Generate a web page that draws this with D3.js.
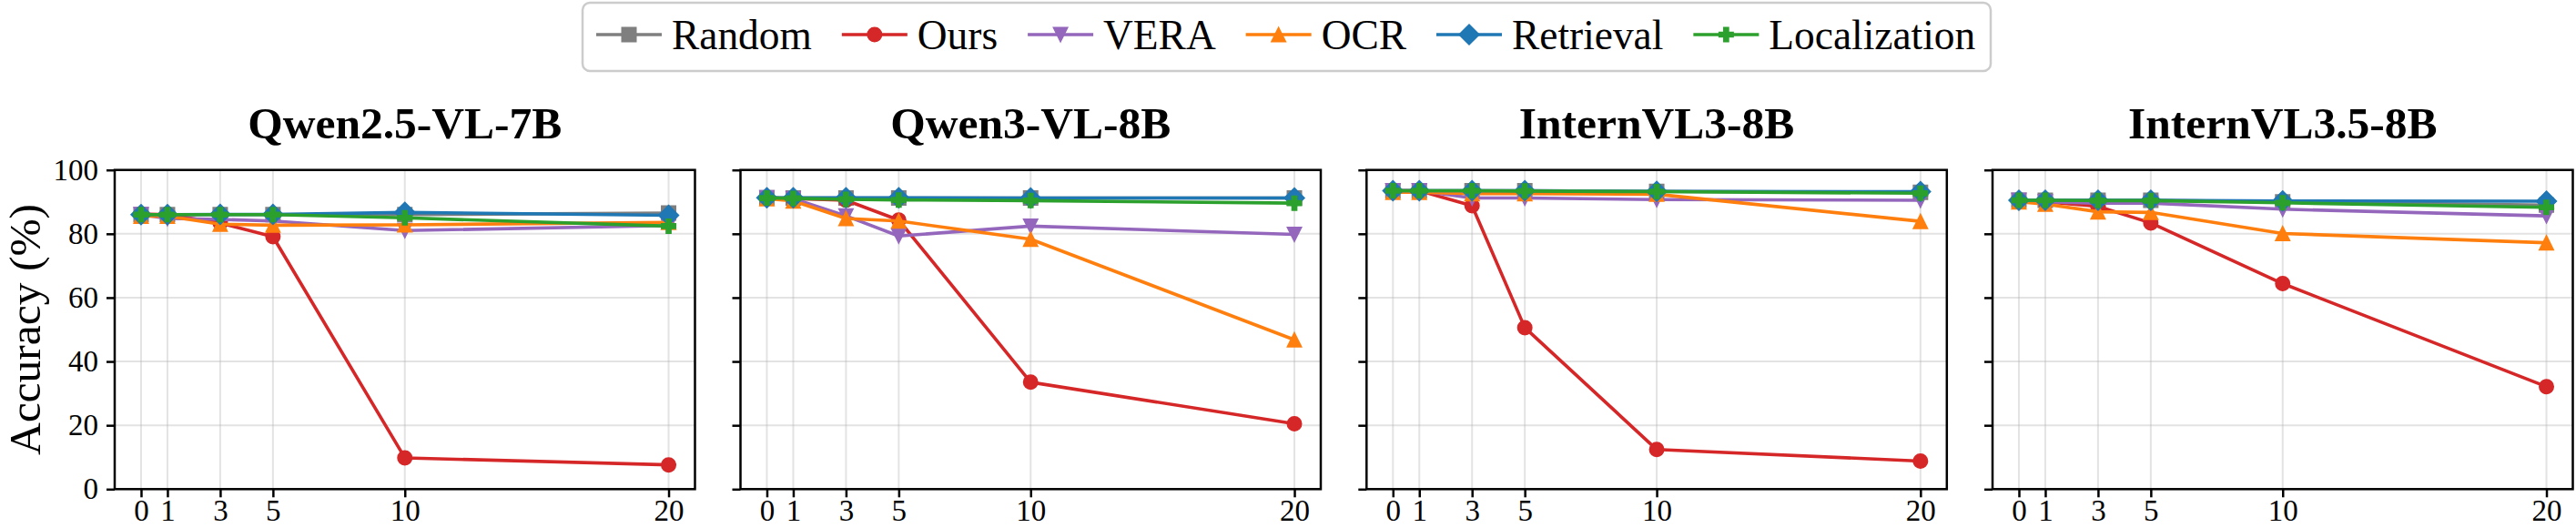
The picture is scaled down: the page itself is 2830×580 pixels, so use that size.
<!DOCTYPE html>
<html>
<head>
<meta charset="utf-8">
<script src="https://cdn.jsdelivr.net/npm/d3@7"></script>
<style>
  body { margin: 0; background: #fff; }
  svg text { font-family: "Liberation Serif", "Times New Roman", serif; fill: #000; }
</style>
</head>
<body>
<div id="chart"></div>
<script>
// data
const steps = [0, 1, 3, 5, 10, 20];
const xTicks = [0, 1, 3, 5, 10, 20];
const yTicks = [0, 20, 40, 60, 80, 100];
const models = ["Qwen2.5-VL-7B", "Qwen3-VL-8B", "InternVL3-8B", "InternVL3.5-8B"];
const methods = ["Random", "Ours", "VERA", "OCR", "Retrieval", "Localization"];

// one row per model, one value per step
const randomAcc = [
    [86, 86, 86, 86, 86, 86.5],
    [91.3, 91.2, 91.2, 91.2, 91.2, 91.2],
    [93.5, 93.5, 93.5, 93.5, 93.3, 93],
    [90.5, 90.5, 90.5, 90.5, 90, 89]
];
const oursAcc = [
    [86.2, 86, 83.4, 79.1, 9.8, 7.6],
    [91.3, 91, 90.5, 84.3, 33.5, 20.5],
    [93.5, 93.5, 88.8, 50.6, 12.4, 8.8],
    [90.5, 90, 88.6, 83.4, 64.4, 32.1]
];
const veraAcc = [
    [86, 84.8, 84.5, 84, 81, 82.6],
    [91.3, 91, 85.6, 79.3, 82.4, 79.8],
    [93.5, 93.5, 91.2, 91.2, 90.7, 90.5],
    [90.5, 90, 89.6, 89.6, 87.7, 85.6]
];
const ocrAcc = [
    [85.5, 85.5, 83, 82.7, 82.8, 83.6],
    [91, 90.3, 84.8, 84, 78.3, 46.8],
    [93, 93, 92.6, 92.6, 92.4, 83.9],
    [90, 89.3, 86.9, 86.7, 80.1, 77.2]
];
const retrievalAcc = [
    [86, 86, 86.1, 86.1, 86.7, 85.8],
    [91.3, 91.3, 91.3, 91.3, 91.2, 91.2],
    [93.5, 93.5, 93.5, 93.5, 93.3, 93.2],
    [90.5, 90.5, 90.5, 90.5, 90.3, 90.2]
];
const localizationAcc = [
    [86, 86, 86, 86, 85, 82.4],
    [91.2, 91.1, 90.8, 90.6, 90.4, 89.6],
    [93.5, 93.5, 93.5, 93.4, 93.2, 92.7],
    [90.5, 90.5, 90.4, 90.4, 89.7, 88.3]
];

const seriesAcc = [randomAcc, oursAcc, veraAcc, ocrAcc, retrievalAcc, localizationAcc];
const colors = ["#7f7f7f", "#d62728", "#9467bd", "#ff7f0e", "#1f77b4", "#2ca02c"];
const markers = ["square", "circle", "triDown", "triUp", "diamond", "plus"];

const serif = '"Liberation Serif", "Times New Roman", serif';

// marker shapes (matplotlib style), s = marker size in px
function markerPath(type, s) {
    let h = s / 2;
    switch (type) {
        case "circle": {
            let p = d3.path();
            p.arc(0, 0, h, 0, 2 * Math.PI);
            p.closePath();
            return p.toString();
        }
        case "square":
            return `M${-h},${-h}H${h}V${h}H${-h}Z`;
        case "triUp":
            return `M0,${-h}L${h},${h}L${-h},${h}Z`;
        case "triDown":
            return `M0,${h}L${h},${-h}L${-h},${-h}Z`;
        case "diamond": {
            let d = h * Math.SQRT2;
            return `M0,${-d}L${d},0L0,${d}L${-d},0Z`;
        }
        case "plus": {
            let a = s / 6;
            return `M${-a},${-h}H${a}V${-a}H${h}V${a}H${a}V${h}H${-a}V${a}H${-h}V${-a}H${-a}Z`;
        }
    }
}

const W = 2830, H = 580;
const svg = d3.select("#chart").append("svg")
    .attr("width", W)
    .attr("height", H);

const panelLeft = [126, 813.5, 1501.3, 2189];
const panelW = 637.5;
const plotTop = 186.7, plotBottom = 537.3;
const markerSize = 15.5;

const y = d3.scaleLinear().domain([0, 100]).range([plotBottom, plotTop]);

models.forEach(function(model, m) {
    let x = d3.scaleLinear()
        .domain([-1, 21])
        .range([panelLeft[m], panelLeft[m] + panelW]);

    let g = svg.append("g").attr("class", "panel");

    // grid
    g.selectAll(".vgrid").data(xTicks).enter().append("line")
        .attr("x1", d => x(d)).attr("x2", d => x(d))
        .attr("y1", plotTop).attr("y2", plotBottom)
        .attr("stroke", "#b0b0b0").attr("stroke-opacity", 0.35).attr("stroke-width", 2);
    g.selectAll(".hgrid").data(yTicks).enter().append("line")
        .attr("x1", x.range()[0]).attr("x2", x.range()[1])
        .attr("y1", d => y(d)).attr("y2", d => y(d))
        .attr("stroke", "#b0b0b0").attr("stroke-opacity", 0.35).attr("stroke-width", 2);

    // series
    let line = d3.line()
        .x((d, i) => x(steps[i]))
        .y(d => y(d));

    seriesAcc.forEach(function(acc, s) {
        let vals = acc[m];
        let sg = g.append("g");
        sg.append("path")
            .datum(vals)
            .attr("fill", "none")
            .attr("stroke", colors[s])
            .attr("stroke-width", 3.6)
            .attr("stroke-linejoin", "round")
            .attr("d", line);
        sg.selectAll("path.mk").data(vals).enter().append("path")
            .attr("class", "mk")
            .attr("transform", (d, i) => `translate(${x(steps[i])},${y(d)})`)
            .attr("d", markerPath(markers[s], markerSize))
            .attr("fill", colors[s])
            .attr("stroke", colors[s])
            .attr("stroke-width", 1.5);
    });

    // axes
    let xAxis = d3.axisBottom(x).tickValues(xTicks).tickSize(9).tickPadding(2).tickSizeOuter(0);
    let xg = g.append("g")
        .attr("transform", `translate(0,${plotBottom})`)
        .call(xAxis);
    xg.select(".domain").remove();
    xg.selectAll(".tick line").attr("stroke-width", 2.5);
    xg.selectAll("text")
        .style("font-family", serif)
        .style("font-size", "33px")
        .attr("dy", "0.71em");

    let yAxis = d3.axisLeft(y).tickValues(yTicks).tickSize(9).tickPadding(9).tickSizeOuter(0);
    let yg = g.append("g")
        .attr("transform", `translate(${x.range()[0]},0)`)
        .call(yAxis);
    yg.select(".domain").remove();
    yg.selectAll(".tick line").attr("stroke-width", 2.5);
    yg.selectAll("text")
        .style("font-family", serif)
        .style("font-size", "33px");
    if (m > 0) yg.selectAll("text").remove();

    // frame
    g.append("rect")
        .attr("x", x.range()[0]).attr("y", plotTop)
        .attr("width", panelW).attr("height", plotBottom - plotTop)
        .attr("fill", "none").attr("stroke", "#000").attr("stroke-width", 2.5);

    // title
    g.append("text")
        .attr("x", x.range()[0] + panelW / 2)
        .attr("y", 152)
        .attr("text-anchor", "middle")
        .style("font-family", serif)
        .style("font-size", "49.5px")
        .style("font-weight", "bold")
        .text(model);
});

// y label
svg.append("text")
    .attr("transform", `translate(44,${(plotTop + plotBottom) / 2}) rotate(-90)`)
    .attr("text-anchor", "middle")
    .style("font-family", serif)
    .style("font-size", "49.5px")
    .text("Accuracy (%)");

// legend
let legend = svg.append("g").attr("class", "legend");
legend.append("rect")
    .attr("x", 640).attr("y", 3)
    .attr("width", 2187 - 640).attr("height", 75)
    .attr("rx", 8)
    .attr("fill", "#fff")
    .attr("stroke", "#cccccc")
    .attr("stroke-width", 2.5);

let lx = 655;
methods.forEach(function(name, s) {
    let item = legend.append("g");
    item.append("line")
        .attr("x1", lx).attr("x2", lx + 72)
        .attr("y1", 38).attr("y2", 38)
        .attr("stroke", colors[s]).attr("stroke-width", 3.6);
    item.append("path")
        .attr("transform", `translate(${lx + 36},38)`)
        .attr("d", markerPath(markers[s], markerSize))
        .attr("fill", colors[s])
        .attr("stroke", colors[s])
        .attr("stroke-width", 1.5);
    let t = item.append("text")
        .attr("x", lx + 83)
        .attr("y", 54)
        .style("font-family", serif)
        .style("font-size", "45.4px")
        .text(name);
    lx = lx + 83 + t.node().getComputedTextLength() + 33;
});
</script>
</body>
</html>
